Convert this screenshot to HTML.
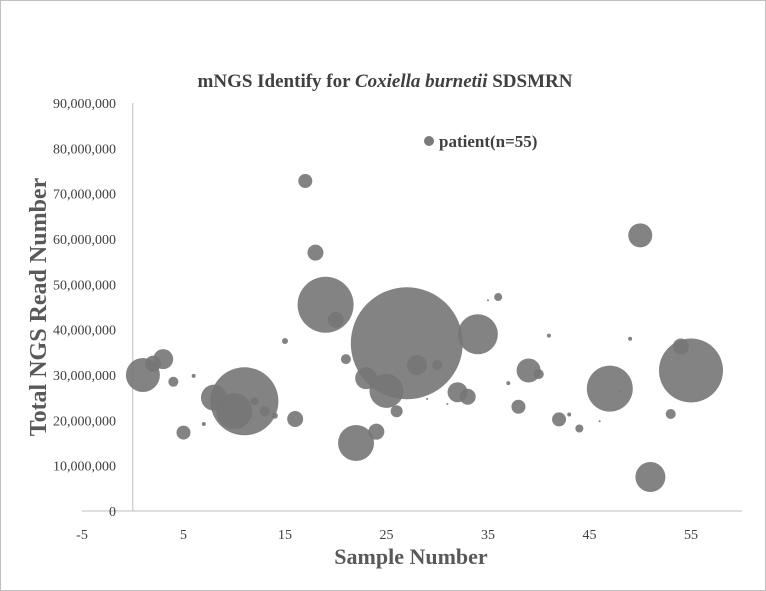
<!DOCTYPE html>
<html><head><meta charset="utf-8"><style>
html,body{margin:0;padding:0;background:#fff;}
svg{display:block;font-family:"Liberation Serif",serif;}
</style></head><body>
<svg width="766" height="591">
<rect x="0.5" y="0.5" width="765" height="590" fill="#fff" stroke="#bfbfbf"/>
<text x="385" y="87" text-anchor="middle" font-size="19" font-weight="bold" fill="#404040">mNGS Identify for <tspan font-style="italic">Coxiella burnetii</tspan> SDSMRN</text>
<g id="axes"></g>
<g id="marks"></g>
<circle cx="429" cy="141" r="5" fill="#7a7a7a"/>
<text x="439" y="147" font-size="17" font-weight="bold" fill="#404040">patient(n=55)</text>
<text x="411" y="564" text-anchor="middle" font-size="22" font-weight="bold" fill="#595959">Sample Number</text>
<text transform="translate(46,307) rotate(-90)" text-anchor="middle" font-size="24" font-weight="bold" fill="#595959">Total NGS Read Number</text>
</svg>
<script>
const samples=[1,2,3,4,5,6,7,8,10,11,12,13,14,15,16,17,18,19,20,21,22,23,24,25,26,27,28,29,30,31,32,33,34,35,36,37,38,39,40,41,42,43,44,46,47,48,49,50,51,52,53,54,55];
const reads=[30,32.5,33.5,28.5,17.3,29.8,19.2,25,22,24.2,24.2,22,21,37.5,20.3,72.8,57,45.5,42.2,33.5,15,29.3,17.5,26.5,22,37,32.2,24.7,32.2,23.6,26.2,25.2,39,46.5,47.2,28.2,23,31,30.2,38.7,20.2,21.3,18.2,19.8,27,26.3,38,60.8,7.5,29.8,21.4,36.3,31];
const sizes=[289,64,100,25,49,4,4,169,324,1156,16,25,9,9,64,49,64,784,64,25,324,121,64,289,36,3136,100,1,25,1,100,64,400,1,16,4,49,144,25,4,49,4,16,1,529,1,4,144,225,1,25,64,1024];
const xTicks=[-5,5,15,25,35,45,55];
const yTicks=[0,10,20,30,40,50,60,70,80,90];
const yLabels=["0","10,000,000","20,000,000","30,000,000","40,000,000","50,000,000","60,000,000","70,000,000","80,000,000","90,000,000"];
const NS="http://www.w3.org/2000/svg";
const X=v=>82+(v+5)*10.15;
const Y=v=>511-v*4.533;
const axes=document.getElementById('axes'),marks=document.getElementById('marks');
function mk(tag,at,parent){const e=document.createElementNS(NS,tag);for(const k in at)e.setAttribute(k,at[k]);parent.appendChild(e);return e;}
let l=mk('line',{x1:X(-5),x2:X(60),y1:Y(0),y2:Y(0),stroke:'#bfbfbf'},axes);


l=mk('line',{x1:X(0),x2:X(0),y1:Y(0),y2:Y(90),stroke:'#bfbfbf'},axes);


xTicks.forEach(t=>{const e=mk('text',{x:X(t),y:539,'text-anchor':'middle','font-size':14,fill:'#404040'},axes);e.textContent=t;

});
yTicks.forEach((t,i)=>{const e=mk('text',{x:116,y:Y(t)+5,'text-anchor':'end','font-size':14,fill:'#404040'},axes);e.textContent=yLabels[i];

});
samples.forEach((s,i)=>{const c=mk('circle',{cx:X(s),cy:Y(reads[i]),r:Math.max(1,Math.sqrt(sizes[i])),fill:'#767676','fill-opacity':0.9},marks);

});
</script>
</body></html>
